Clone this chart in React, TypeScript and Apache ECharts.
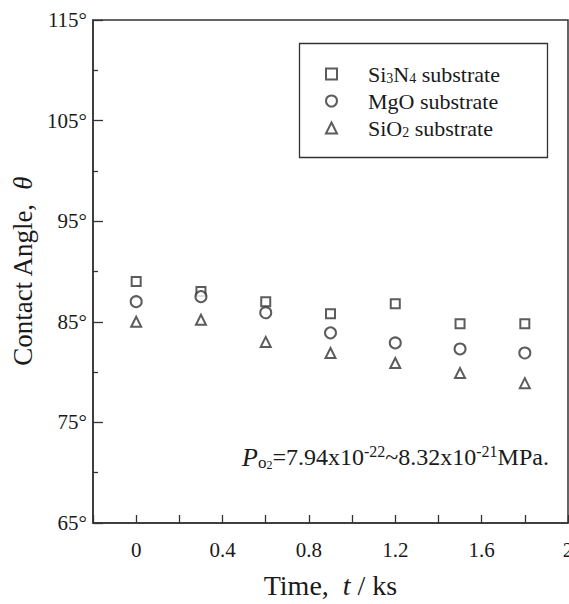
import React, { useEffect, useRef } from 'react';
import * as echarts from 'echarts';

const times = [0, 0.3, 0.6, 0.9, 1.2, 1.5, 1.8];
const si3n4 = [89, 88, 87, 85.8, 86.8, 84.8, 84.8];
const mgo = [87, 87.5, 85.9, 83.9, 82.9, 82.3, 81.9];
const sio2 = [85, 85.2, 83, 81.9, 80.9, 79.9, 78.9];
const seriesNames = ['Si3N4 substrate', 'MgO substrate', 'SiO2 substrate'];
const legendLabels: Record<string, string> = {
  'Si3N4 substrate': '{sp| }{t|Si}{s|3}{t|N}{s|4}{t| substrate}',
  'MgO substrate': '{sp| }{t|MgO substrate}',
  'SiO2 substrate': '{sp| }{t|SiO}{s|2}{t| substrate}',
};
const annotation = '{P|P}{o|o}{two|2}{m|=7.94x10}{sup|-22}{m|~8.32x10}{sup|-21}{m|MPa.}';

const serif = 'Liberation Serif, DejaVu Serif, serif';
const ink = '#1a1a1a';
const markColor = '#333';

export default function App() {
  const ref = useRef<HTMLDivElement>(null);
  useEffect(() => {
    if (!ref.current) return;
    document.documentElement.style.overflow = 'hidden';
    document.body.style.overflow = 'hidden';
    const chart = echarts.init(ref.current, undefined, { renderer: 'svg' });
    const toPairs = (ys: number[]) => times.map((t, i) => [t, ys[i]]);
    chart.setOption({
      animation: false,
      backgroundColor: '#fff',
      textStyle: { fontFamily: serif },
      grid: {
        left: 93,
        top: 20,
        right: 1,
        bottom: 81,
        show: true,
        borderColor: '#333',
        borderWidth: 1.5,
        containLabel: false,
        outerBoundsMode: 'none',
      },
      xAxis: {
        type: 'value',
        min: -0.2,
        max: 2.0,
        interval: 0.2,
        name: 'Time,  {i|t} / ks',
        nameLocation: 'middle',
        nameGap: 48,
        nameTextStyle: {
          fontFamily: serif,
          fontSize: 28,
          color: ink,
          rich: { i: { fontFamily: serif, fontSize: 28, fontStyle: 'italic', color: ink } },
        },
        axisLine: { show: true, onZero: false, lineStyle: { color: '#333', width: 1.5 } },
        axisTick: { show: true, inside: true, length: 8, lineStyle: { color: '#333', width: 1.3 } },
        splitLine: { show: false },
        axisLabel: {
          fontFamily: serif,
          fontSize: 21,
          color: ink,
          margin: 16,
          showMinLabel: true,
          showMaxLabel: true,
          formatter: (v: number) => {
            const r = Math.round(v * 10);
            return r >= 0 && r % 4 === 0 ? String(r / 10) : '';
          },
        },
      },
      yAxis: {
        type: 'value',
        min: 65,
        max: 115,
        interval: 10,
        name: 'Contact Angle,  {i|θ}',
        nameLocation: 'middle',
        nameGap: 56,
        nameTextStyle: {
          fontFamily: serif,
          fontSize: 27,
          color: ink,
          rich: { i: { fontFamily: serif, fontSize: 27, fontStyle: 'italic', color: ink } },
        },
        axisLine: { show: true, onZero: false, lineStyle: { color: '#333', width: 1.5 } },
        axisTick: { show: true, inside: true, length: 10, lineStyle: { color: '#333', width: 1.3 } },
        minorTick: { show: true, splitNumber: 2, length: 5, lineStyle: { color: '#333', width: 1.3 } },
        splitLine: { show: false },
        minorSplitLine: { show: false },
        axisLabel: {
          fontFamily: serif,
          fontSize: 21,
          color: ink,
          margin: 6,
          formatter: (v: number) => `${v}°`,
        },
      },
      legend: {
        orient: 'vertical',
        left: 325,
        top: 63,
        padding: 0,
        itemWidth: 11,
        itemHeight: 11,
        itemGap: 5,
        data: seriesNames,
        formatter: (name: string) => legendLabels[name] || name,
        textStyle: {
          fontFamily: serif,
          fontSize: 22,
          color: ink,
          rich: {
            sp: { width: 26, fontFamily: serif, fontSize: 22, lineHeight: 22 },
            t: { fontFamily: serif, fontSize: 22, lineHeight: 22, color: ink },
            s: { fontFamily: serif, fontSize: 14, lineHeight: 14, color: ink, verticalAlign: 'bottom' },
          },
        },
      },
      graphic: [
        {
          type: 'rect',
          left: 297,
          top: 41,
          shape: { width: 248, height: 114 },
          style: { fill: 'none', stroke: '#333', lineWidth: 1.3 },
          z: 10,
        },
        {
          type: 'text',
          x: 242,
          y: 457,
          z: 10,
          style: {
            text: annotation,
            verticalAlign: 'middle',
            align: 'left',
            fill: ink,
            fontFamily: serif,
            rich: {
              P: { fontFamily: serif, fontSize: 26, fontStyle: 'italic', lineHeight: 28, fill: ink },
              o: { fontFamily: serif, fontSize: 17, lineHeight: 16, verticalAlign: 'bottom', fill: ink },
              two: { fontFamily: serif, fontSize: 12, lineHeight: 9, verticalAlign: 'bottom', fill: ink },
              m: { fontFamily: serif, fontSize: 24, lineHeight: 28, fill: ink },
              sup: { fontFamily: serif, fontSize: 16, lineHeight: 22, verticalAlign: 'top', fill: ink },
            },
          },
        },
      ],
      series: [
        {
          name: seriesNames[0],
          type: 'scatter',
          symbol: 'emptyRect',
          symbolSize: 9,
          data: toPairs(si3n4),
          itemStyle: { color: markColor, borderColor: markColor, borderWidth: 1.3 },
        },
        {
          name: seriesNames[1],
          type: 'scatter',
          symbol: 'emptyCircle',
          symbolSize: 11,
          data: toPairs(mgo),
          itemStyle: { color: markColor, borderColor: markColor, borderWidth: 1.3 },
        },
        {
          name: seriesNames[2],
          type: 'scatter',
          symbol: 'emptyTriangle',
          symbolSize: 10,
          data: toPairs(sio2),
          itemStyle: { color: markColor, borderColor: markColor, borderWidth: 1.3 },
        },
      ],
    });
    return () => chart.dispose();
  }, []);
  return (
    <div
      ref={ref}
      style={{ position: 'absolute', left: 0, top: 0, width: 569, height: 604, background: '#fff' }}
    />
  );
}
